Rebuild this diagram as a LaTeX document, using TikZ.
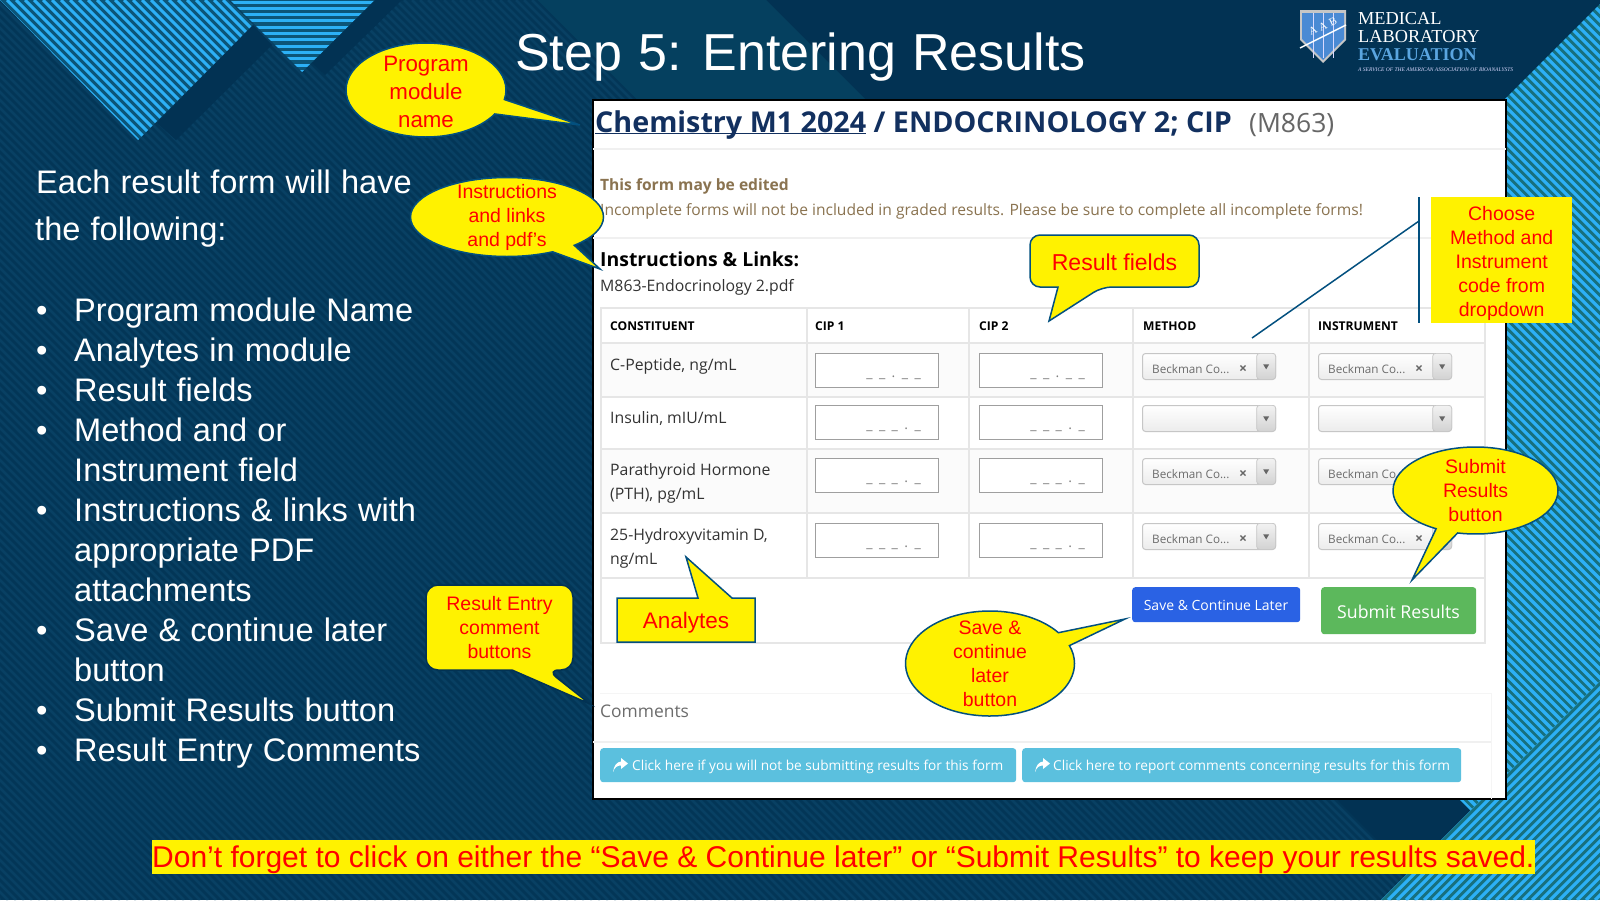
\documentclass[tikz,border=0pt]{standalone}
\usepackage{fontspec}
\setmainfont{Liberation Sans}
\newfontfamily\webfont{Open Sans}
\newfontfamily\logofont{Liberation Serif}
\usetikzlibrary{shapes.callouts, positioning}

\definecolor{navybase}{HTML}{023253}
\definecolor{navyband}{HTML}{05405F}
\definecolor{navystripe}{HTML}{084063}
\definecolor{hatchlight}{HTML}{2CB0F6}
\definecolor{hatchdark}{HTML}{17707E}
\definecolor{hatchdeep}{HTML}{0C5578}
\definecolor{noteline}{HTML}{03507F}
\definecolor{titlenavy}{HTML}{12305F}
\definecolor{warnbrown}{HTML}{8A7350}
\definecolor{rulegray}{HTML}{E6E6E6}
\definecolor{linkblue}{HTML}{5BC0DE}
\definecolor{savecolor}{HTML}{2A62E4}
\definecolor{submitcolor}{HTML}{5CB85C}
\definecolor{logoblue}{HTML}{4A8AD4}
\definecolor{logotext}{HTML}{5AA5E0}

\newcommand{\pxfont}[1]{\fontsize{#1}{#1}\selectfont}
\newcommand{\blankmark}{\_\kern6.4pt}
\newcommand{\widegap}[1]{\spaceskip=#1\relax}
\newcommand{\shareicon}[2]{\fill[white] (#1,#2+14) .. controls (#1+1,#2+7) and (#1+4,#2+4) .. (#1+8,#2+3.5) -- (#1+8,#2) -- (#1+15,#2+5.5) -- (#1+8,#2+11) -- (#1+8,#2+7.5) .. controls (#1+4,#2+7.5) and (#1+2,#2+9) .. (#1,#2+14) -- cycle;}

\tikzset{
  slidetext/.style={text=white, anchor=base west, inner sep=0pt, font=\pxfont{32.6}, execute at begin node={\widegap{.31em}}},
  notetext/.style={text=red, align=center, inner sep=0pt, font=\fontsize{19.5}{24}\selectfont},
  noteball/.style={ellipse callout, draw=noteline, fill=yellow, line width=1.5pt, inner sep=0pt, callout pointer arc=16},
  noteshape/.style={draw=noteline, fill=yellow, line width=1.5pt},
  webtext/.style={anchor=base west, inner sep=0pt, text=black!80, font=\webfont\pxfont{15.8}},
  headcell/.style={anchor=base west, inner sep=0pt, text=black, font=\webfont\bfseries\pxfont{12.1}},
  inputbox/.style={draw=gray!75, fill=white, line width=1.2pt, anchor=north west, minimum width=123pt, minimum height=34pt, inner sep=0pt},
  blanktext/.style={anchor=base east, inner sep=0pt, text=gray, font=\webfont\pxfont{14}},
  selectbox/.style={draw=gray!45, top color=white, bottom color=gray!15, rounded corners=3pt, line width=1pt, anchor=north west, minimum width=133pt, minimum height=26pt, inner sep=0pt},
  dropbox/.style={draw=gray!45, top color=gray!10, bottom color=gray!35, rounded corners=3pt, line width=.7pt, anchor=north east, minimum width=19pt, minimum height=26pt, inner sep=0pt},
  selecttext/.style={anchor=base west, inner sep=0pt, text=gray!85!black, font=\webfont\pxfont{11.7}},
  closemark/.style={inner sep=0pt, text=gray!80!black, font=\webfont\bfseries\pxfont{14}},
  webbutton/.style={rounded corners=3pt, anchor=north west, inner sep=0pt},
  buttontext/.style={anchor=base, inner sep=0pt, text=white, font=\webfont\pxfont{14}},
}

\begin{document}
\begin{tikzpicture}[x=1pt, y=-1pt]
  \useasboundingbox (0,0) rectangle (1600,900);

  % background
  \fill[navybase] (0,0) rectangle (1600,900);
  \fill[navyband] (537,0) -- (766,0) -- (1000,234) -- (800,263) -- cycle;
  \begin{scope}
    \clip (0,0) -- (537,0) -- (1437,900) -- (0,900) -- cycle;
    \fill[navybase!70!navyband] (0,0) rectangle (1600,900);
    \foreach \dd in {-900,-892,...,700}
      \draw[navystripe, line width=2.8pt] (\dd,0) -- (\dd+900,900);
  \end{scope}

  % corner hatches
  \begin{scope}
    \clip (0,0) -- (228,0) -- (253,25) -- (138,140) -- cycle;
    \fill[hatchdeep] (0,0) rectangle (300,200);
    \foreach \dd in {-200,-191,...,300}
      \draw[hatchlight, line width=3pt] (\dd,0) -- (\dd+200,200);
  \end{scope}
  \begin{scope}
    \clip (230,0) -- (375,0) -- (302,72) -- cycle;
    \fill[hatchdeep] (200,0) rectangle (400,80);
    \foreach \dd in {2,8.3,...,80}
      \draw[hatchlight, line width=3pt] (200,\dd) -- (400,\dd);
  \end{scope}
  \fill[navybase] (253,25) -- (272,45) -- (176,140) -- (157,123) -- cycle;
  \fill[navybase] (375,0) -- (402,0) -- (325,75) -- (312,63) -- cycle;
  \begin{scope}
    \clip (1604,0) -- (1400,204) -- (1400,740) -- (1472,812) -- (1600,684) -- cycle;
    \fill[hatchdark] (1400,0) rectangle (1600,820);
    \foreach \dd in {400,409,...,1600}
      \draw[hatchlight, line width=3.2pt] (\dd,0) -- (\dd+900,900);
  \end{scope}
  \begin{scope}
    \clip (1381,900) -- (1600,681) -- (1600,900) -- cycle;
    \fill[hatchdark] (1380,680) rectangle (1600,900);
    \foreach \dd in {2000,2009,...,2600}
      \draw[hatchlight, line width=3.2pt] (\dd,0) -- (\dd-900,900);
  \end{scope}

  % title and logo
  \node[anchor=base west, inner sep=0pt, text=white, font=\pxfont{52}, execute at begin node={\widegap{.31em}}] (slidetitle) at (515,70) {Step 5: Entering Results};
  \fill[gray!45!white] (1300,10) -- (1346,10) -- (1346,40) -- (1323,63) -- (1300,40) -- cycle;
  \fill[logoblue] (1302,13) -- (1344,13) -- (1344,39) -- (1323,60) -- (1302,39) -- cycle;
  \foreach \xx in {1313,1323,1333}
    \draw[white!85!blue, line width=1pt] (\xx,13) -- (\xx,58);
  \draw[white, line width=1.5pt] (1300,48) -- (1346,25);
  \node[text=white, inner sep=0pt, rotate=25, font=\logofont\pxfont{11}] (logoa) at (1313,31) {A};
  \node[text=white, inner sep=0pt, rotate=25, font=\logofont\pxfont{11}] (logob) at (1323,27) {A};
  \node[text=white, inner sep=0pt, rotate=25, font=\logofont\pxfont{11}] (logoc) at (1333,22) {B};
  \node[anchor=base west, inner sep=0pt, text=white, font=\logofont\pxfont{18.3}] (logoline1) at (1358,24) {MEDICAL};
  \node[anchor=base west, inner sep=0pt, text=white, font=\logofont\pxfont{18.3}] (logoline2) at (1358,42) {LABORATORY};
  \node[anchor=base west, inner sep=0pt, text=logotext, font=\logofont\bfseries\pxfont{18}] (logoline3) at (1358,60) {EVALUATION};
  \node[anchor=base west, inner sep=0pt, text=white!85!blue, font=\logofont\itshape\pxfont{5.5}] (logoline4) at (1358,71) {A SERVICE OF THE AMERICAN ASSOCIATION OF BIOANALYSTS};

  % left column
  \node[slidetext] (introa) at (36,193) {Each result form will have};
  \node[slidetext] (introb) at (35,240) {the following:};
  \foreach \i/\yy in {1/321,2/361,3/401,4/441,6/521,9/641,11/721,12/761}
    \node[slidetext] (bull\i) at (36,\yy) {•};
  \foreach \i/\yy/\txt in {1/321/{Program module Name}, 2/361/{Analytes in module}, 3/401/{Result fields},
      4/441/{Method and or}, 5/481/{Instrument field}, 6/521/{Instructions \& links with}, 7/561/{appropriate PDF},
      8/601/{attachments}, 9/641/{Save \& continue later}, 10/681/{button}, 11/721/{Submit Results button}, 12/761/{Result Entry Comments}}
    \node[slidetext] (item\i) at (74,\yy) {\txt};

  % form panel
  \fill[white] (593,100) rectangle (1506,799);
  \draw[black, line width=1.5pt] (593,100) rectangle (1506,799);
  \node[webtext, text=titlenavy, font=\webfont\bfseries\pxfont{28.7}] (formname) at (595,132) {\underline{\smash{Chemistry M1 2024}} / ENDOCRINOLOGY 2; CIP};
  \node[webtext, text=gray!80!black, font=\webfont\pxfont{26.5}] (formcode) at (1249,132) {(M863)};
  \draw[gray!12, line width=1.2pt] (593,149) -- (1506,149);
  \node[webtext, text=warnbrown, font=\webfont\bfseries\pxfont{15.6}] (formflag) at (600,190) {This form may be edited};
  \node[webtext, text=warnbrown, font=\webfont\pxfont{15.6}] (formhint) at (600,215) {Incomplete forms will not be included in graded results. Please be sure to complete all incomplete forms!};
  \draw[gray!12, line width=1.2pt] (593,238) -- (1506,238);
  \node[webtext, text=black, font=\webfont\bfseries\pxfont{19.4}] (linkhead) at (600,266) {Instructions \& Links:};
  \node[webtext] (linkfile) at (600,291) {M863-Endocrinology 2.pdf};

  % table
  \fill[gray!3] (601,343) rectangle (1485,397);
  \fill[gray!3] (601,449) rectangle (1485,513);
  \draw[rulegray, line width=1.2pt] (601,308) rectangle (1485,643);
  \foreach \yy in {343,397,449,513,578}
    \draw[rulegray, line width=1.2pt] (601,\yy) -- (1485,\yy);
  \foreach \xx in {807,969,1133,1309}
    \draw[rulegray, line width=1.2pt] (\xx,308) -- (\xx,578);
  \foreach \nn/\xx/\txt in {a/610/CONSTITUENT, b/815/CIP 1, c/979/CIP 2, d/1143/METHOD, e/1318/INSTRUMENT}
    \node[headcell] (head\nn) at (\xx,330) {\txt};
  \foreach \nn/\yy/\txt in {a/370/{C-Peptide, ng/mL}, b/423/{Insulin, mIU/mL}, c/475/{Parathyroid Hormone}, d/499/{(PTH), pg/mL}, e/540/{25-Hydroxyvitamin D,}, f/564/{ng/mL}}
    \node[webtext] (name\nn) at (610,\yy) {\txt};
  \foreach \cc/\xx in {a/815,b/979}
    \foreach \rr/\yy/\mask in {1/353/{\blankmark\blankmark.\kern6.4pt\blankmark\_}, 2/405/{\blankmark\blankmark\blankmark.\kern6.4pt\_}, 3/458/{\blankmark\blankmark\blankmark.\kern6.4pt\_}, 4/523/{\blankmark\blankmark\blankmark.\kern6.4pt\_}} {
      \node[inputbox] (input\cc\rr) at (\xx,\yy) {};
      \node[blanktext] (blank\cc\rr) at (\xx+106,\yy+24) {\mask};
    }
  \foreach \cc/\xx in {m/1142,i/1318}
    \foreach \rr/\yy in {1/353,2/405,3/458,4/523} {
      \node[selectbox] (sel\cc\rr) at (\xx,\yy) {};
      \node[dropbox] (drop\cc\rr) at (sel\cc\rr.north east) {};
      \fill[gray!80!black] (drop\cc\rr.center) +(-3,-2) -- +(3,-2) -- +(0,3) -- cycle;
      \ifnum\rr=2\else
        \node[selecttext] (seltxt\cc\rr) at (\xx+10,\yy+20) {Beckman Co...};
        \node[closemark] (selx\cc\rr) at (\xx+101,\yy+16) {×};
      \fi
    }
  \node[webbutton, fill=savecolor, minimum width=168pt, minimum height=35pt] (savebtn) at (1132,587) {};
  \node[buttontext] (savetxt) at (1216,610) {Save \& Continue Later};
  \node[webbutton, fill=submitcolor, minimum width=155pt, minimum height=47pt] (submitbtn) at (1321,587) {};
  \node[buttontext, font=\webfont\pxfont{17.7}] (submittxt) at (1398.5,618) {Submit Results};

  % comments
  \draw[gray!8, line width=1pt] (600,693) -- (1491,693) -- (1491,799);
  \draw[gray!12, line width=1.2pt] (593,742) -- (1491,742);
  \node[webtext, text=gray!85!black, font=\webfont\pxfont{17.4}] (commenthead) at (600,717) {Comments};
  \node[webbutton, fill=linkblue, minimum width=416pt, minimum height=34pt] (skipbtn) at (600,748) {};
  \shareicon{613}{758}
  \node[buttontext, anchor=base west, font=\webfont\pxfont{13.66}] (skiptxt) at (632,770) {Click here if you will not be submitting results for this form};
  \node[webbutton, fill=linkblue, minimum width=439pt, minimum height=34pt] (reportbtn) at (1022,748) {};
  \shareicon{1035}{758}
  \node[buttontext, anchor=base west, font=\webfont\pxfont{13.66}] (reporttxt) at (1053,770) {Click here to report comments concerning results for this form};

  % notes
  \node[noteball, minimum width=160pt, minimum height=94pt, callout pointer arc=19, callout absolute pointer={(580,125)}] (modulecall) at (426,90) {};
  \node[notetext, font=\fontsize{22.3}{28}\selectfont] (modulenote) at ([yshift=-2pt]modulecall.center) {Program\\module\\name};
  \node[noteball, minimum width=193pt, minimum height=79pt, callout absolute pointer={(600,269)}] (linkcall) at (507,217) {};
  \node[notetext] (linknote) at (linkcall.center) {Instructions\\and links\\and pdf’s};
  \node[noteball, minimum width=169pt, minimum height=105pt, callout absolute pointer={(1125,619)}] (savecall) at (990,663.5) {};
  \node[notetext] (savenote) at (savecall.center) {Save \&\\continue\\later\\button};
  \node[noteball, minimum width=165pt, minimum height=87pt, callout absolute pointer={(1412,580)}] (submitcall) at (1475.5,490.5) {};
  \node[notetext] (submitnote) at (submitcall.center) {Submit\\Results\\button};

  \draw[noteshape, rounded corners=10pt] (1058,287) -- (1030,287) -- (1030,235) -- (1199,235) -- (1199,287) -- (1102,287) [sharp corners] -- (1049,321) -- cycle;
  \node[notetext, font=\fontsize{23}{28}\selectfont] (fieldsnote) at (1114.5,262) {Result fields};
  \draw[noteshape] (617,598) -- (698,598) -- (686,557) -- (732,598) -- (755,598) -- (755,642) -- (617,642) -- cycle;
  \node[notetext, font=\fontsize{22.5}{28}\selectfont] (analytesnote) at (686,623) {Analytes};
  \draw[noteshape, draw=navybase, rounded corners=12pt] (512,670) -- (426,670) -- (426,585) -- (573,585) -- (573,670) -- (547,670) [sharp corners] -- (590,704) -- cycle;
  \node[notetext] (entrynote) at (499.5,628) {Result Entry\\comment\\buttons};

  \node[fill=yellow, anchor=north west, minimum width=141pt, minimum height=126pt, inner sep=0pt] (choosebox) at (1431,197) {};
  \node[notetext] (choosenote) at ([yshift=-3pt]choosebox.center) {Choose\\Method and\\Instrument\\code from\\dropdown};
  \coordinate (choosetop) at (1419,197);
  \coordinate (choosebottom) at (1419,323);
  \coordinate (choosejoint) at (1419,221);
  \coordinate (choosetip) at (1252,338);
  \draw[noteline, line width=1.5pt] (choosetop) -- (choosebottom);
  \draw[noteline, line width=1.5pt] (choosejoint) -- (choosetip);

  % reminder
  \node[fill=yellow, text=red, anchor=north west, minimum width=1380pt, minimum height=34pt, inner sep=0pt, text height=25pt, text depth=5pt, font=\pxfont{30}] (reminder) at (152,840) {Don’t forget to click on either the “Save \& Continue later” or “Submit Results” to keep your results saved.};
\end{tikzpicture}
\end{document}
